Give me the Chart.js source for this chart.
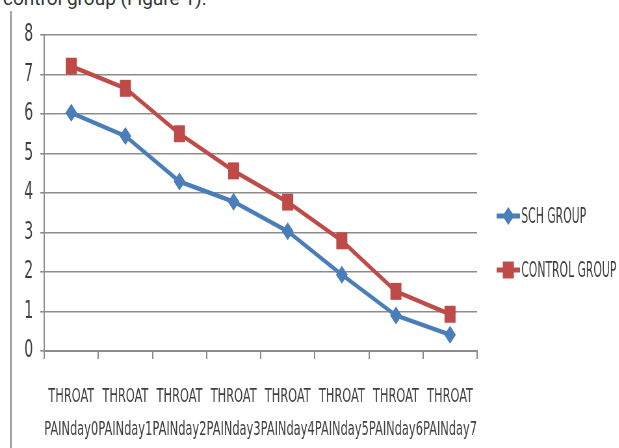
<!DOCTYPE html>
<html>
<head>
<meta charset="utf-8">
<script src="https://cdn.jsdelivr.net/npm/chart.js@4/dist/chart.umd.min.js"></script>
<style>
  html, body { margin: 0; padding: 0; background: #fff; overflow: hidden; }
  body { width: 619px; height: 448px; position: relative; }
  #caption {
    position: absolute; left: 3px; top: -11px;
    font: 19px/19px Roboto, "Noto Sans", sans-serif; color: #333;
    white-space: nowrap;
  }
  #frame { position: absolute; left: 10px; top: 11px; width: 2px; height: 437px; background: #a6a6a6; }
  /* the reference is a squeezed Excel chart, so draw wide and scale down */
  #wrap { position: absolute; left: 0; top: 0; width: 952px; height: 448px; transform: scaleX(0.65); transform-origin: 0 0; }
</style>
</head>
<body>
<div id="caption">control group (Figure 1).</div>
<div id="frame"></div>
<div id="wrap"><canvas id="grafico" width="952" height="448"></canvas></div>
<script>
// Datos
const dias = ["PAINday0", "PAINday1", "PAINday2", "PAINday3", "PAINday4", "PAINday5", "PAINday6", "PAINday7"];
const prefijo = "THROAT";
const sch = [6.03, 5.44, 4.29, 3.78, 3.03, 1.93, 0.90, 0.41];
const control = [7.21, 6.65, 5.50, 4.56, 3.77, 2.79, 1.51, 0.93];
const nombres = ["SCH GROUP", "CONTROL GROUP"];

const azul = "#4a7ebb";
const rojo = "#be4b48";
const gris = "#8c8c8c";
const fuente = "'Liberation Sans Narrow', 'DejaVu Sans Condensed', 'Liberation Sans', sans-serif";

// Leyenda a la derecha (linea + marcador como en Excel)
const leyenda = {
    id: "leyenda",
    afterDraw(chart) {
        const ctx = chart.ctx;
        const filas = [216, 270];
        chart.data.datasets.forEach((ds, i) => {
            const y = filas[i];
            ctx.save();
            ctx.strokeStyle = ds.borderColor;
            ctx.lineWidth = 5;
            ctx.beginPath();
            ctx.moveTo(764, y);
            ctx.lineTo(800, y);
            ctx.stroke();
            ctx.fillStyle = ds.backgroundColor;
            Chart.helpers.drawPoint(ctx, {
                pointStyle: ds.pointStyle,
                radius: ds.pointRadius,
                rotation: 0,
                borderWidth: 0
            }, 782, y);
            ctx.fillStyle = "#404040";
            ctx.font = "22px " + fuente;
            ctx.textBaseline = "middle";
            ctx.translate(802, y + 1);
            ctx.scale(0.84, 1);
            ctx.fillText(ds.label, 0, 0);
            ctx.restore();
        });
    }
};

const ctx = document.getElementById("grafico").getContext("2d");

new Chart(ctx, {
    type: "line",
    data: {
        labels: dias.map(d => [prefijo, d]),
        datasets: [
            {
                label: nombres[0],
                data: sch,
                borderColor: azul,
                backgroundColor: azul,
                borderWidth: 4.5,
                pointStyle: "rectRot",
                pointRadius: 9,
                pointBorderWidth: 0,
                tension: 0
            },
            {
                label: nombres[1],
                data: control,
                borderColor: rojo,
                backgroundColor: rojo,
                borderWidth: 4.5,
                pointStyle: "rect",
                pointRadius: 12,
                pointBorderWidth: 0,
                tension: 0
            }
        ]
    },
    options: {
        responsive: false,
        animation: false,
        devicePixelRatio: 1,
        layout: { padding: { left: 0, right: 218, top: 35, bottom: 0 } },
        plugins: {
            legend: { display: false },
            tooltip: { enabled: false }
        },
        scales: {
            x: {
                offset: true,
                grid: { drawOnChartArea: false, drawTicks: true, offset: true, tickLength: 8, color: gris, lineWidth: 2 },
                border: { display: true, color: gris, width: 2 },
                ticks: {
                    color: "#404040",
                    font: { family: fuente, size: 19.5, lineHeight: 1.72 },
                    maxRotation: 0,
                    autoSkip: false,
                    padding: 21
                },
                afterFit(scale) { scale.height = 97; }
            },
            y: {
                min: 0,
                max: 8,
                ticks: {
                    stepSize: 1,
                    color: "#404040",
                    font: { family: fuente, size: 24 },
                    padding: 11
                },
                grid: { color: gris, lineWidth: 1.6, tickLength: 6 },
                border: { display: true, color: gris, width: 2 },
                afterFit(scale) { scale.width = 68; }
            }
        }
    },
    plugins: [leyenda]
});
</script>
</body>
</html>
